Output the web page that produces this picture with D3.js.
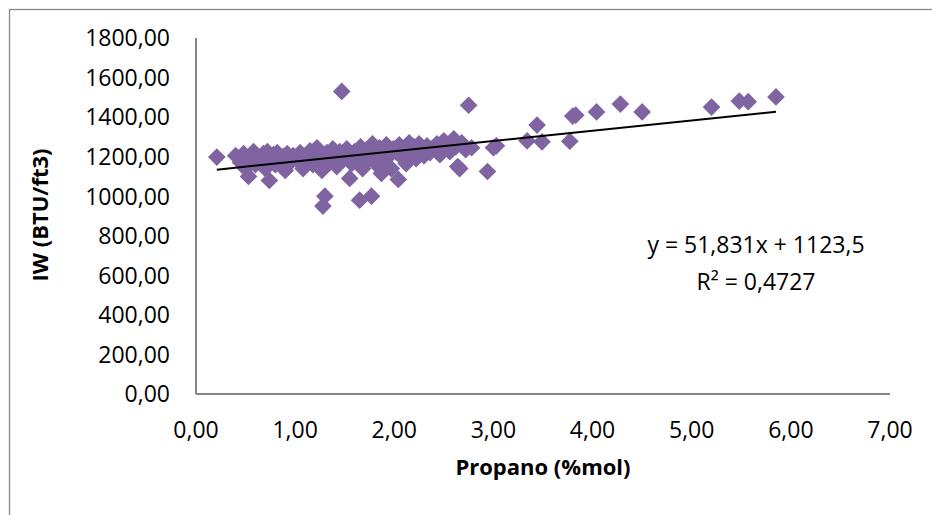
<!DOCTYPE html>
<html>
<head>
<meta charset="utf-8">
<script src="https://cdn.jsdelivr.net/npm/d3@7/dist/d3.min.js"></script>
<style>
  html, body { margin: 0; padding: 0; background: #fff; }
  svg { display: block; font-family: "Open Sans", sans-serif; }
</style>
</head>
<body>
<svg id="chart" width="932" height="515"></svg>
<script>
// Propano content (%mol) of each sample
const propano = [
  0.21, 0.40, 0.45, 0.48, 0.50, 0.53, 0.55,
  0.58, 0.60, 0.62, 0.65, 0.68, 0.70, 0.72, 0.74, 0.76, 0.78, 0.80, 0.82, 0.85, 0.88, 0.90, 0.92, 0.95, 0.98,
  1.02, 1.05, 1.08, 1.10, 1.13, 1.15, 1.18, 1.20, 1.22, 1.25, 1.27, 1.28, 1.30, 1.32, 1.35, 1.38, 1.40, 1.42, 1.45, 1.47, 1.48,
  1.50, 1.52, 1.55, 1.57, 1.60, 1.62, 1.65, 1.66, 1.68, 1.70, 1.73, 1.75, 1.77, 1.78, 1.80, 1.82, 1.85, 1.87, 1.88, 1.90, 1.92, 1.95, 1.97, 1.99,
  2.02, 2.04, 2.05, 2.08, 2.10, 2.12, 2.15, 2.18, 2.20, 2.22, 2.25, 2.28, 2.30, 2.33, 2.36, 2.40, 2.43, 2.46, 2.50, 2.53, 2.56, 2.60, 2.62, 2.64, 2.66, 2.68, 2.72, 2.75, 2.78, 2.94, 3.00, 3.03,
  3.34, 3.44, 3.49, 3.77, 3.80, 3.83, 4.04, 4.28, 4.50, 5.20, 5.48, 5.57, 5.85
];
// Wobbe index IW (BTU/ft3) of each sample
const iw = [
  1198, 1205, 1170, 1215, 1140, 1100, 1190,
  1225, 1160, 1205, 1180, 1215, 1140, 1225, 1080, 1190, 1210, 1160, 1220, 1180, 1200, 1130, 1215, 1170, 1205,
  1185, 1220, 1140, 1200, 1175, 1230, 1160, 1215, 1245, 1190, 1130, 950, 1000, 1220, 1170, 1240, 1200, 1150, 1225, 1530, 1185,
  1210, 1240, 1090, 1165, 1225, 1195, 980, 1250, 1140, 1215, 1180, 1235, 1000, 1265, 1200, 1160, 1245, 1115, 1220, 1185, 1260, 1205, 1140, 1240,
  1225, 1085, 1260, 1195, 1240, 1165, 1270, 1215, 1250, 1190, 1265, 1230, 1205, 1255, 1220, 1240, 1265, 1210, 1280, 1245, 1225, 1290, 1250, 1150, 1140, 1270, 1235, 1460, 1245, 1125, 1245, 1255,
  1280, 1360, 1275, 1278, 1405, 1410, 1426, 1466, 1426, 1451, 1481, 1478, 1502
];
const xTicks = [0, 1, 2, 3, 4, 5, 6, 7];
const yTicks = [0, 200, 400, 600, 800, 1000, 1200, 1400, 1600, 1800];
// Linear trendline coefficients
const slope = 51.831;
const intercept = 1123.5;
const rSquared = 0.4727;

const fmt = v => v.toFixed(2).replace(".", ",");
const svg = d3.select("#chart");

// chart frame
svg.append("rect")
  .attr("x", 9.5).attr("y", 9.5).attr("width", 1000).attr("height", 1000)
  .attr("fill", "none").attr("stroke", "#898989").attr("stroke-width", 1.3);

const x = d3.scaleLinear().domain([0, 7]).range([196, 890]);
const y = d3.scaleLinear().domain([0, 1800]).range([394, 38]);

// axes lines
svg.append("line").attr("x1", 196).attr("x2", 196).attr("y1", y(1800)).attr("y2", y(0))
  .attr("stroke", "#868686").attr("stroke-width", 2);
svg.append("line").attr("x1", 196).attr("x2", x(7)).attr("y1", y(0)).attr("y2", y(0))
  .attr("stroke", "#868686").attr("stroke-width", 2);

// tick labels
svg.append("g").selectAll("text").data(yTicks).join("text")
  .attr("x", 170).attr("y", d => y(d)).attr("dy", "0.36em")
  .attr("text-anchor", "end").attr("font-size", 23).attr("fill", "#000")
  .text(fmt);
svg.append("g").selectAll("text").data(xTicks).join("text")
  .attr("x", d => x(d)).attr("y", 430).attr("dy", "0.36em")
  .attr("text-anchor", "middle").attr("font-size", 23).attr("fill", "#000")
  .text(fmt);

// axis titles
svg.append("text").attr("x", 543).attr("y", 467).attr("dy", "0.36em")
  .attr("text-anchor", "middle").attr("font-size", 22).attr("font-weight", "bold")
  .text("Propano (%mol)");
svg.append("text").attr("transform", "translate(40,215) rotate(-90)").attr("dy", "0.36em")
  .attr("text-anchor", "middle").attr("font-size", 22).attr("font-weight", "bold")
  .text("IW (BTU/ft3)");

// scatter markers (diamonds)
const pts = propano.map((p, i) => ({ p, v: iw[i] }));
svg.append("g").selectAll("path").data(pts).join("path")
  .attr("d", d3.symbol(d3.symbolDiamond2, 200))
  .attr("transform", d => `translate(${x(d.p)},${y(d.v)})`)
  .attr("fill", "#8064A2");

// trendline over the data range
const [xmin, xmax] = d3.extent(propano);
svg.append("line")
  .attr("x1", x(xmin)).attr("y1", y(intercept + slope * xmin))
  .attr("x2", x(xmax)).attr("y2", y(intercept + slope * xmax))
  .attr("stroke", "#000").attr("stroke-width", 2);

// equation label
svg.append("text").attr("x", 756).attr("y", 245).attr("dy", "0.36em")
  .attr("text-anchor", "middle").attr("font-size", 23)
  .text(`y = ${String(slope).replace(".", ",")}x + ${String(intercept).replace(".", ",")}`);
svg.append("text").attr("x", 756).attr("y", 282).attr("dy", "0.36em")
  .attr("text-anchor", "middle").attr("font-size", 23)
  .text(`R² = ${String(rSquared).replace(".", ",")}`);
</script>
</body>
</html>
